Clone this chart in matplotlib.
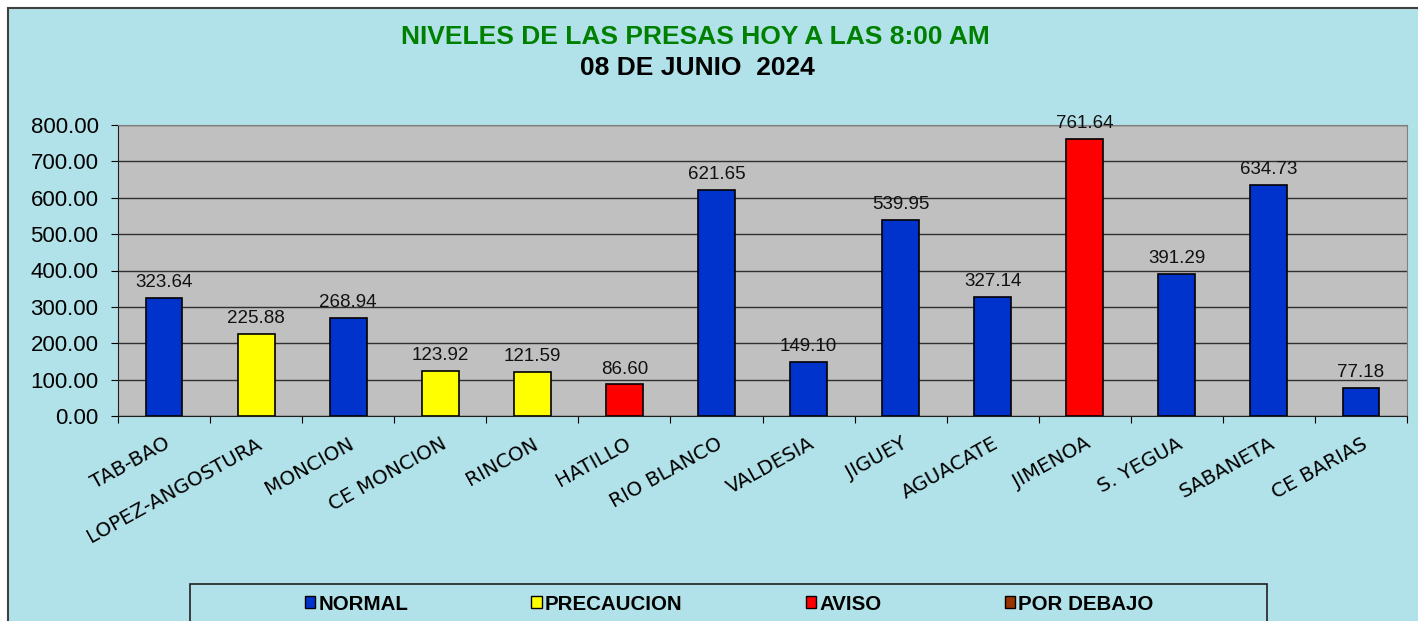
import matplotlib
matplotlib.use("Agg")
import matplotlib.pyplot as plt
from matplotlib.patches import Rectangle, Patch
from matplotlib.ticker import FixedLocator, FormatStrFormatter

# datos de las presas
presas = ['TAB-BAO', 'LOPEZ-ANGOSTURA', 'MONCION', 'CE MONCION', 'RINCON', 'HATILLO',
          'RIO BLANCO', 'VALDESIA', 'JIGUEY', 'AGUACATE', 'JIMENOA', 'S. YEGUA',
          'SABANETA', 'CE BARIAS']
niveles = [323.64, 225.88, 268.94, 123.92, 121.59, 86.60,
           621.65, 149.10, 539.95, 327.14, 761.64, 391.29,
           634.73, 77.18]
estados = ['NORMAL', 'PRECAUCION', 'NORMAL', 'PRECAUCION', 'PRECAUCION', 'AVISO',
           'NORMAL', 'NORMAL', 'NORMAL', 'NORMAL', 'AVISO', 'NORMAL',
           'NORMAL', 'NORMAL']
leyenda = ['NORMAL', 'PRECAUCION', 'AVISO', 'POR DEBAJO']
colores = {'NORMAL': '#0033CC', 'PRECAUCION': '#FFFF00',
           'AVISO': '#FF0000', 'POR DEBAJO': '#993300'}

plt.rcParams['font.family'] = ['Liberation Sans', 'DejaVu Sans']

W, H = 1418, 621
fig = plt.figure(figsize=(W / 100, H / 100), dpi=100, facecolor='white')

# fondo del grafico (marco)
fondo = '#B2E2E9'
fig.patches.append(Rectangle((8 / W, -0.1), 1.1, 1 - 8 / H + 0.1, transform=fig.transFigure,
                             facecolor=fondo, edgecolor='#404040', linewidth=1.5, zorder=-10))

ax = fig.add_axes([118 / W, (H - 416) / H, (1407 - 118) / W, (416 - 125) / H])
ax.set_facecolor('#C0C0C0')

x = list(range(len(presas)))
barras = ax.bar(x, niveles, width=0.4, color=[colores[e] for e in estados],
                edgecolor='black', linewidth=1.2, zorder=3)
ax.bar_label(barras, fmt='%.2f', padding=5, fontsize=13.5, color='#111111')

ax.set_ylim(0, 800)
ax.set_xlim(-0.5, len(presas) - 0.5)
ax.yaxis.set_major_locator(FixedLocator(range(0, 801, 100)))
ax.yaxis.set_major_formatter(FormatStrFormatter('%.2f'))
ax.grid(axis='y', color='#303030', linewidth=1, zorder=1)
ax.tick_params(axis='y', labelsize=16, length=5, pad=9, direction='out')

ax.xaxis.set_major_locator(FixedLocator([i - 0.5 for i in range(len(presas) + 1)]))
ax.xaxis.set_major_formatter(plt.NullFormatter())
ax.xaxis.set_minor_locator(FixedLocator(x))
ax.set_xticks(x, presas, minor=True, rotation=29, ha='right', rotation_mode='anchor',
              fontsize=14.3, fontfamily='DejaVu Sans')
ax.tick_params(axis='x', which='major', length=5, direction='out')
ax.tick_params(axis='x', which='minor', length=0, pad=13)

for lado in ['top', 'right']:
    ax.spines[lado].set_color('#808080')
for lado in ['left', 'bottom']:
    ax.spines[lado].set_color('#202020')

# titulos
fig.text(695 / W, 1 - 37 / H, 'NIVELES DE LAS PRESAS HOY A LAS 8:00 AM', ha='center', va='center',
         fontsize=19, fontweight='bold', color='#008000')
fig.text(697 / W, 1 - 68 / H, '08 DE JUNIO  2024', ha='center', va='center',
         fontsize=19, fontweight='bold', color='black')

# leyenda
fig.patches.append(Rectangle((190 / W, -0.1), (1267 - 190) / W, 0.1 + (H - 584) / H,
                             transform=fig.transFigure, facecolor='none',
                             edgecolor='#202020', linewidth=1.2, zorder=5))
handles = [Patch(facecolor=colores[k], edgecolor='black', linewidth=1) for k in leyenda]
fig.legend(handles, leyenda, loc='center', bbox_to_anchor=(729 / W, 1 - 604 / H), ncol=4,
           frameon=False, borderpad=0, handlelength=0.5, handleheight=0.5,
           handletextpad=0.15, columnspacing=6.0,
           prop={'family': 'Liberation Sans', 'weight': 'bold', 'size': 14.8})

plt.savefig('out.png', dpi=100, facecolor=fig.get_facecolor())
plt.close()
